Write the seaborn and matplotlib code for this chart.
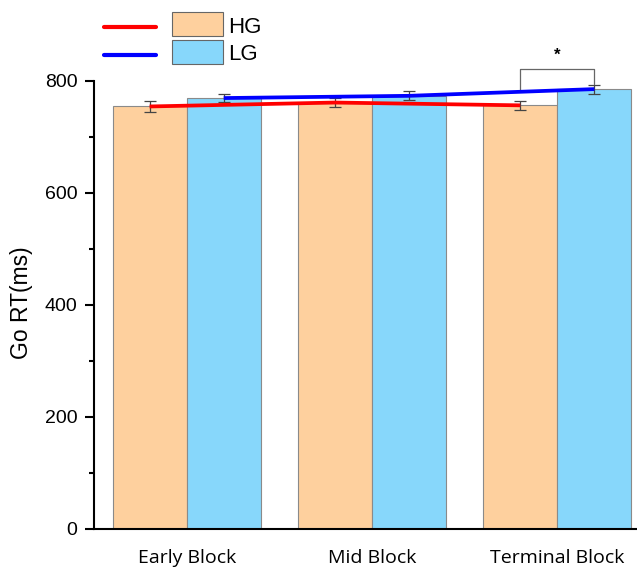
import numpy as np
import pandas as pd
import seaborn as sns
import matplotlib
matplotlib.use("Agg")
import matplotlib.pyplot as plt
from matplotlib.lines import Line2D
from matplotlib.patches import Rectangle
from matplotlib.ticker import MultipleLocator

# ---- data ----
blocks = ["Early Block", "Mid Block", "Terminal Block"]
groups = ["HG", "LG"]
hg_rt = [754, 761, 756]
lg_rt = [769, 773, 785]
hg_err = [9, 8, 8]
lg_err = [7, 8, 8]
y_ticks = [0, 200, 400, 600, 800]
y_label = "Go RT(ms)"
sig_label = "*"

hg_color = "#FED09E"
lg_color = "#87D7FB"

df = pd.DataFrame({
    "block": blocks * 2,
    "group": ["HG"] * 3 + ["LG"] * 3,
    "rt": hg_rt + lg_rt,
})

sns.set_style("ticks")
plt.rcParams["font.family"] = ["Liberation Sans", "DejaVu Sans"]
for k in ["text.color", "axes.labelcolor", "xtick.color", "ytick.color",
          "axes.edgecolor"]:
    plt.rcParams[k] = "black"

fig = plt.figure(figsize=(6.37, 5.67), dpi=100)
W, H = 637, 567
ax = fig.add_axes([94 / W, (H - 528.7) / H, (637 - 94) / W, (528.7 - 80.7) / H])

sns.barplot(data=df, x="block", y="rt", hue="group", order=blocks,
            hue_order=groups, palette=[hg_color, lg_color], errorbar=None,
            saturation=1, edgecolor="#8a8a8a", linewidth=0.8, legend=False,
            ax=ax, width=0.8)

# bar centres from the containers
centers = {}
for g, cont in zip(groups, ax.containers):
    centers[g] = [p.get_x() + p.get_width() / 2 for p in cont]

# error bars
ax.errorbar(centers["HG"], hg_rt, yerr=hg_err, fmt="none", ecolor="#444444",
            elinewidth=0.9, capsize=4.5, capthick=0.9, zorder=4, clip_on=False)
ax.errorbar(centers["LG"], lg_rt, yerr=lg_err, fmt="none", ecolor="#444444",
            elinewidth=0.9, capsize=4.5, capthick=0.9, zorder=4, clip_on=False)

# trend lines
ax.plot(centers["HG"], hg_rt, color="#FF0000", lw=2.7, zorder=5, clip_on=False,
        solid_capstyle="butt")
ax.plot(centers["LG"], lg_rt, color="#0000FF", lw=2.7, zorder=5, clip_on=False,
        solid_capstyle="butt")

# significance bracket
xl, xr = centers["HG"][2], centers["LG"][2]
ax.plot([xl, xl, xr, xr], [782, 821, 821, 794], color="#666666", lw=0.9,
        clip_on=False, zorder=3)
ax.text((xl + xr) / 2, 846, sig_label, ha="center", va="center",
        fontsize=12, fontweight="bold", clip_on=False)

ax.set_xlim(-0.5, 2.43)
ax.set_ylim(0, 800)
ax.set_yticks(y_ticks)
ax.yaxis.set_minor_locator(MultipleLocator(100))
ax.tick_params(axis="y", which="major", length=6.5, width=1.5, pad=5.5,
               labelsize=14, direction="out")
ax.tick_params(axis="y", which="minor", length=3.5, width=1.5, direction="out")
ax.tick_params(axis="x", length=0, pad=14.5)
for lab in ax.get_xticklabels():
    lab.set_fontfamily(["Open Sans", "DejaVu Sans"])
    lab.set_fontsize(14)
ax.set_xlabel("")
ax.set_ylabel(y_label, fontsize=16.5)
ax.yaxis.set_label_coords(-0.112, 0.505)

for s in ["top", "right"]:
    ax.spines[s].set_visible(False)
ax.spines["left"].set_linewidth(1.5)
ax.spines["bottom"].set_linewidth(1.5)

# legend (drawn in figure pixel coordinates)
def fy(y):
    return 1 - y / H

def fx(x):
    return x / W

fig.add_artist(Line2D([fx(104), fx(156)], [fy(27.3), fy(27.3)], color="#FF0000",
                      lw=3.0, transform=fig.transFigure))
fig.add_artist(Line2D([fx(104), fx(156)], [fy(55), fy(55)], color="#0000FF",
                      lw=3.0, transform=fig.transFigure))
fig.add_artist(Rectangle((fx(172), fy(36)), fx(51), 24.5 / H, facecolor=hg_color,
                         edgecolor="#666666", lw=0.8, transform=fig.transFigure))
fig.add_artist(Rectangle((fx(172), fy(64)), fx(51), 24.5 / H, facecolor=lg_color,
                         edgecolor="#666666", lw=0.8, transform=fig.transFigure))
fig.text(fx(228), fy(32.7), groups[0], fontsize=16, ha="left", va="baseline")
fig.text(fx(228), fy(60.5), groups[1], fontsize=16, ha="left", va="baseline")

fig.savefig("out.png", dpi=100)
